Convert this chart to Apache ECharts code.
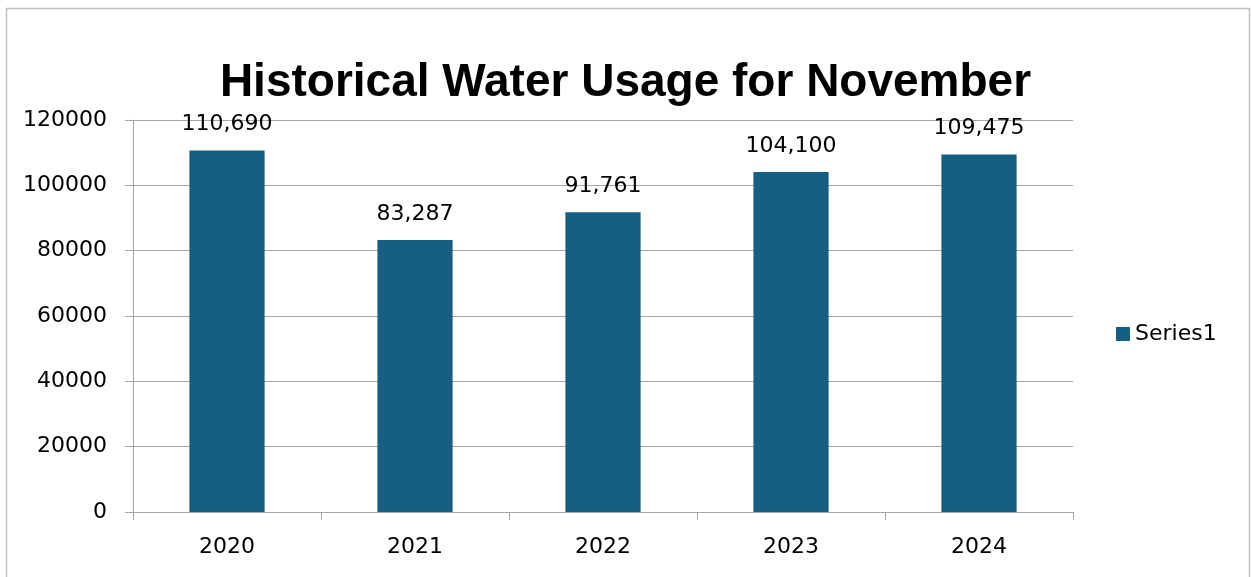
<!DOCTYPE html>
<html>
<head>
<meta charset="utf-8">
<script src="https://cdn.jsdelivr.net/npm/echarts@6/dist/echarts.min.js"></script>
<style>
  html, body { margin: 0; padding: 0; background: #ffffff; }
  #chart { width: 1251px; height: 577px; }
</style>
</head>
<body>
<div id="chart"></div>
<script>
// November water usage by year
const years = ['2020', '2021', '2022', '2023', '2024'];
const usage = [110690, 83287, 91761, 104100, 109475];
const seriesName = 'Series1';
const yTicks = { min: 0, max: 120000, interval: 20000 };

const chart = echarts.init(document.getElementById('chart'));
const bodyFont = '"DejaVu Sans", sans-serif';
const titleFont = '"Liberation Sans", Arial, sans-serif';
const lineGray = '#a6a6a6';

chart.setOption({
  backgroundColor: '#ffffff',
  animation: false,
  title: {
    text: 'Historical Water Usage for November',
    left: 'center',
    top: 55,
    textStyle: { fontFamily: titleFont, fontSize: 46, fontWeight: 'bold', color: '#000000' }
  },
  legend: {
    data: [seriesName],
    orient: 'vertical',
    left: 1111,
    top: 318,
    icon: 'rect',
    itemWidth: 14,
    itemHeight: 14,
    itemGap: 8,
    textStyle: { fontFamily: bodyFont, fontSize: 22, color: '#000000' }
  },
  grid: { left: 133, right: 178, top: 120, bottom: 65 },
  xAxis: {
    type: 'category',
    data: years,
    axisLine: { lineStyle: { color: lineGray, width: 1 } },
    axisTick: { show: true, alignWithLabel: false, length: 8, lineStyle: { color: lineGray } },
    axisLabel: { fontFamily: bodyFont, fontSize: 22, color: '#000000', margin: 24 }
  },
  yAxis: {
    type: 'value',
    min: yTicks.min,
    max: yTicks.max,
    interval: yTicks.interval,
    axisLine: { show: true, lineStyle: { color: lineGray, width: 1 } },
    axisTick: { show: true, length: 8, lineStyle: { color: lineGray } },
    axisLabel: { fontFamily: bodyFont, fontSize: 22, color: '#000000', margin: 26, formatter: v => String(v) },
    splitLine: { show: true, lineStyle: { color: lineGray, width: 1 } }
  },
  series: [{
    name: seriesName,
    type: 'bar',
    data: usage,
    barWidth: '40%',
    itemStyle: { color: '#175f80' },
    label: {
      show: true,
      position: 'top',
      distance: 15,
      fontFamily: bodyFont,
      fontSize: 22,
      color: '#000000',
      formatter: p => p.value.toLocaleString('en-US')
    }
  }],
  graphic: [{
    type: 'rect',
    shape: { x: 6.5, y: 8.5, width: 1243, height: 600 },
    style: { fill: 'none', stroke: '#bfbfbf', lineWidth: 1.5 },
    silent: true,
    z: 100
  }]
});
</script>
</body>
</html>
